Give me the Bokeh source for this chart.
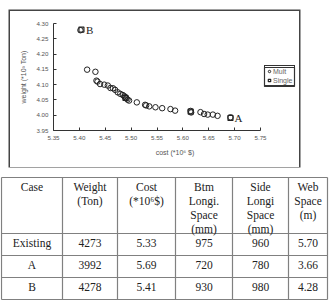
from bokeh.plotting import figure
from bokeh.models import (Range1d, Legend, LegendItem, FixedTicker, NumeralTickFormatter)
from bokeh.core.properties import value
from bokeh.embed import file_html
from bokeh.resources import INLINE

# ---------------- data ----------------
multi_cost = [5.402, 5.415, 5.431, 5.433, 5.435, 5.440, 5.448, 5.455, 5.460, 5.465,
              5.469, 5.474, 5.479, 5.484, 5.487, 5.489, 5.491, 5.493, 5.496, 5.511,
              5.527, 5.529, 5.535, 5.547, 5.560, 5.576, 5.585, 5.615, 5.616, 5.634,
              5.641, 5.648, 5.658, 5.667, 5.692]
multi_weight = [4.278, 4.149, 4.142, 4.113, 4.110, 4.102, 4.100, 4.097, 4.089, 4.088,
                4.083, 4.075, 4.070, 4.066, 4.062, 4.059, 4.055, 4.051, 4.048, 4.042,
                4.034, 4.032, 4.029, 4.026, 4.023, 4.020, 4.015, 4.014, 4.009, 4.010,
                4.004, 4.002, 4.002, 3.998, 3.993]
single_cost = [5.404, 5.489, 5.615, 5.692]
single_weight = [4.280, 4.057, 4.012, 3.991]

point_labels = ["B", "A"]
label_cost = [5.405, 5.692]
label_weight = [4.278, 3.992]

x_ticks = [5.35, 5.40, 5.45, 5.50, 5.55, 5.60, 5.65, 5.70, 5.75]
y_ticks = [3.95, 4.00, 4.05, 4.10, 4.15, 4.20, 4.25, 4.30]

table_header = [["Case"], ["Weight", "(Ton)"], ["Cost", "(*10\u2076$)"],
                ["Btm", "Longi.", "Space", "(mm)"], ["Side", "Longi", "Space", "(mm)"],
                ["Web", "Space", "(m)"]]
table_rows = [["Existing", "4273", "5.33", "975", "960", "5.70"],
              ["A", "3992", "5.69", "720", "780", "3.66"],
              ["B", "4278", "5.41", "930", "980", "4.28"]]

# ---------------- chart ----------------
x_lo, x_hi = x_ticks[0], x_ticks[-1]
y_lo, y_hi = y_ticks[0], y_ticks[-1]
px_per_unit = 207 / (x_hi - x_lo)          # horizontal frame scale
py_per_unit = 107 / (y_hi - y_lo)          # vertical frame scale
x_view_end = x_hi + 36 / px_per_unit       # extra room on the right for the legend

p = figure(width=289, height=156, x_range=Range1d(x_lo, x_view_end), y_range=Range1d(y_lo, y_hi),
           output_backend="svg", toolbar_location=None,
           min_border_left=43, min_border_right=3, min_border_top=12, min_border_bottom=37)
p.margin = (11, 0, 0, 10)
p.styles = {"box-shadow": "0 0 0 1.5px #444444"}
p.outline_line_color = None
p.grid.visible = False
p.background_fill_color = "white"
p.border_fill_color = "white"

# legend frame (decoration, placed in pixel offsets from the axis corner)
p.quad(left=[x_hi + 4 / px_per_unit], right=[x_hi + 34 / px_per_unit],
       top=[y_hi - 44 / py_per_unit], bottom=[y_hi - 63 / py_per_unit],
       fill_color=None, line_color="#333333", line_width=1.2)

r_multi = p.scatter(multi_cost, multi_weight, marker="circle", size=5.5, line_color="#222222",
                    line_width=1, fill_color=None)
r_single = p.scatter(single_cost, single_weight, marker="square", size=5, line_color="#222222",
                     line_width=1.2, fill_color=None)

p.text(x=label_cost, y=label_weight, text=point_labels, x_offset=4, text_baseline="middle",
       text_font=value("Liberation Serif"), text_font_size="11px", text_color="#222222")

p.xaxis.ticker = FixedTicker(ticks=x_ticks)
p.yaxis.ticker = FixedTicker(ticks=y_ticks)
p.xaxis.bounds = (x_lo, x_hi)
p.xaxis.formatter = NumeralTickFormatter(format="0.00")
p.yaxis.formatter = NumeralTickFormatter(format="0.00")
p.xaxis.axis_label = "cost (*10\u2076 $)"
p.yaxis.axis_label = "weight (*10\u00b3 Ton)"
for ax in (p.xaxis[0], p.yaxis[0]):
    ax.axis_line_color = "#333333"
    ax.major_tick_line_color = "#333333"
    ax.minor_tick_line_color = None
    ax.major_tick_in = 3
    ax.major_tick_out = 0
    ax.major_label_text_font = "Liberation Sans"
    ax.major_label_text_font_size = "6.2px"
    ax.major_label_text_color = "#555555"
    ax.axis_label_text_font = "Liberation Sans"
    ax.axis_label_text_font_size = "7px"
    ax.axis_label_text_font_style = "normal"
    ax.axis_label_text_color = "#555555"
    ax.major_label_standoff = 5
    ax.axis_label_standoff = 6

legend = Legend(items=[LegendItem(label="Mult", renderers=[r_multi]),
                       LegendItem(label="Single", renderers=[r_single])],
                location=(211, 44), margin=0, padding=1, spacing=1,
                glyph_width=6, glyph_height=8, label_height=8, label_standoff=1,
                label_text_font="Liberation Sans", label_text_font_size="7px",
                label_text_color="#666666", border_line_color="#333333",
                border_line_width=1.2, border_line_alpha=1.0,
                background_fill_alpha=0)
p.add_layout(legend)

# ---------------- table ----------------
t = figure(width=330, height=135, x_range=Range1d(0, 330), y_range=Range1d(302, 167),
           output_backend="svg", toolbar_location=None, min_border=0,
           x_axis_location=None, y_axis_location=None)
t.outline_line_color = None
t.grid.visible = False

col_edges = [1, 62, 117, 175, 232, 288, 327]
row_edges = [177, 233, 255, 277, 299]
col_centers = [(a + b) / 2 for a, b in zip(col_edges[:-1], col_edges[1:])]

t.segment(x0=[col_edges[0]] * len(row_edges), x1=[col_edges[-1]] * len(row_edges),
          y0=row_edges, y1=row_edges, line_color="#808080", line_width=1.2)
t.segment(x0=col_edges, x1=col_edges, y0=[row_edges[0]] * len(col_edges),
          y1=[row_edges[-1]] * len(col_edges), line_color="#808080", line_width=1.2)

hx, hy, ht = [], [], []
for ci, lines in enumerate(table_header):
    for li, s in enumerate(lines):
        hx.append(col_centers[ci])
        hy.append(row_edges[0] + 9 + 14 * li)
        ht.append(s)
for ri, row in enumerate(table_rows):
    for ci, s in enumerate(row):
        hx.append(col_centers[ci])
        hy.append(row_edges[ri + 1] + 9)
        ht.append(s)
t.text(x=hx, y=hy, text=ht, text_align="center", text_baseline="middle",
       text_font=value("Liberation Serif"), text_font_size="11.5px", text_color="#222222")

open("out.html", "w").write(file_html([p, t], INLINE))
